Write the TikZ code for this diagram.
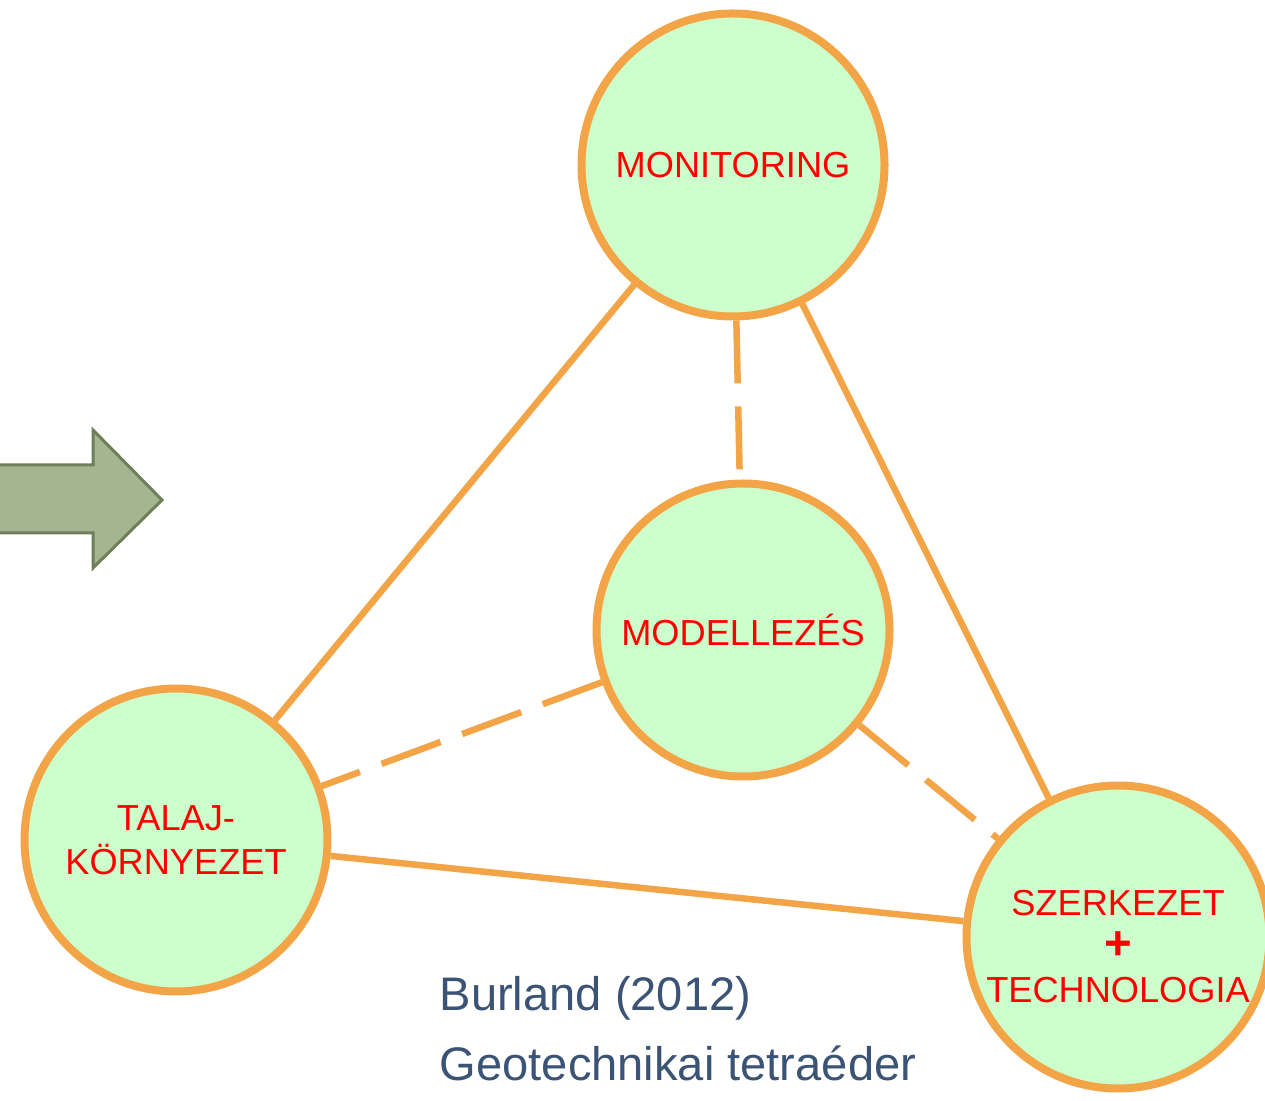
\documentclass[tikz,border=0pt]{standalone}
\usepackage{fontspec}
\setmainfont{Liberation Sans}
\definecolor{ringorange}{HTML}{F2A447}
\definecolor{ballgreen}{HTML}{CCFFCC}
\definecolor{labelred}{HTML}{FF0000}
\definecolor{citeblue}{HTML}{3B5374}
\definecolor{arrowfill}{HTML}{A5B592}
\definecolor{arrowdraw}{HTML}{6E7F5A}

\begin{document}
\begin{tikzpicture}[
  ball/.style={circle,fill=ballgreen,draw=ringorange,line width=0.08cm,minimum size=3.03cm,inner sep=0pt,align=center,text=labelred,font=\fontsize{10.3}{12.4}\selectfont},
  se/.style={draw=ringorange,line width=0.065cm},
  de/.style={draw=ringorange,line width=0.065cm,dash pattern=on 0.63cm off 0.23cm},
  cite/.style={anchor=base west,inner sep=0pt,text=citeblue,font=\fontsize{13.4}{16}\selectfont}]
  \useasboundingbox (0,0) rectangle (12.65,11);
  % big arrow on the left
  \draw[fill=arrowfill,draw=arrowdraw,line width=0.03cm,line join=miter]
    (-0.1,6.35) -- (0.93,6.35) -- (0.93,6.70) -- (1.62,6.00) -- (0.93,5.32) -- (0.93,5.67) -- (-0.1,5.67) -- cycle;
  % the four balls
  \node[ball] (mon) at (7.33,9.35) {MONITORING};
  \node[ball,minimum size=2.93cm] (mod) at (7.43,4.70) {MODELLEZÉS};
  \node[ball] (talaj) at (1.76,2.60) {TALAJ-\\KÖRNYEZET};
  \node[ball] (szerk) at (11.18,1.63) {\rule{0pt}{0.45cm}SZERKEZET\\{\fontsize{13.5}{12.4}\selectfont\bfseries +}\\TECHNOLOGIA};
  % outer triangle
  \draw[se] (mon) -- (talaj);
  \draw[se] (mon) -- (szerk);
  \draw[se] (talaj) -- (szerk);
  % links to the middle
  \draw[de] (mon) -- (mod);
  \draw[de] (mod) -- (talaj);
  \draw[de] (mod) -- (szerk);
  % source
  \node[cite] (burland) at (4.39,0.90) {Burland (2012)};
  \node[cite] (tetra) at (4.39,0.20) {Geotechnikai tetraéder};
\end{tikzpicture}
\end{document}
